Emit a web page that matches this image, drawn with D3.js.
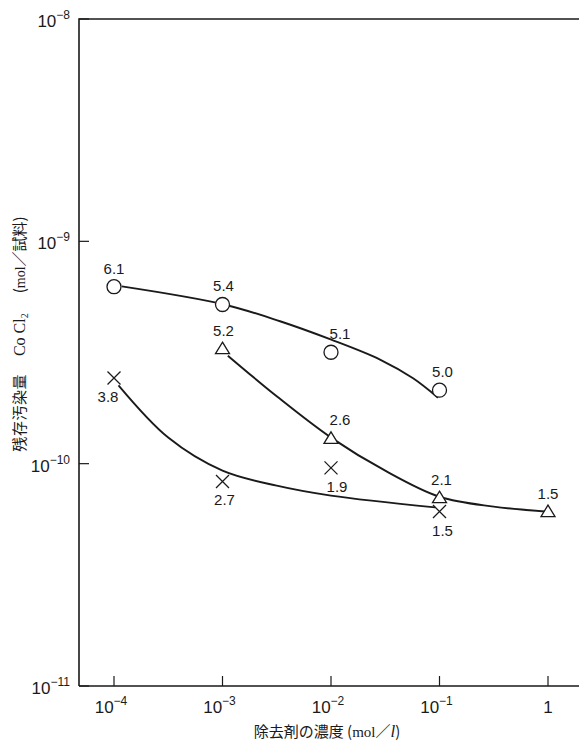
<!DOCTYPE html>
<html>
<head>
<meta charset="utf-8">
<script src="https://cdn.jsdelivr.net/npm/d3@7"></script>
<style>
  body { margin: 0; background: #fff; }
  svg { display: block; }
  text { fill: #1a1a1a; }
</style>
</head>
<body>
<script>
// Residual contamination (CoCl2, mol per sample) versus remover concentration (mol/l)

// Axis ticks
const xTicks = [1e-4, 1e-3, 1e-2, 1e-1, 1];
const xTickBase = ["10", "10", "10", "10", "1"];
const xTickExp = ["-4", "-3", "-2", "-1", ""];
const yTicks = [1e-8, 1e-9, 1e-10, 1e-11];
const yTickBase = ["10", "10", "10", "10"];
const yTickExp = ["-8", "-9", "-10", "-11"];

// Series: circles
const circleConc = [1e-4, 1e-3, 1e-2, 1e-1];
const circleVals = [6.25e-10, 5.2e-10, 3.17e-10, 2.14e-10];
const circleLabels = ["6.1", "5.4", "5.1", "5.0"];

// Series: triangles
const triConc = [1e-3, 1e-2, 1e-1, 1];
const triVals = [3.29e-10, 1.30e-10, 7.03e-11, 6.09e-11];
const triLabels = ["5.2", "2.6", "2.1", "1.5"];

// Series: crosses
const crossConc = [1e-4, 1e-3, 1e-2, 1e-1];
const crossVals = [2.43e-10, 8.32e-11, 9.57e-11, 6.09e-11];
const crossLabels = ["3.8", "2.7", "1.9", "1.5"];

// Hand-drawn trend curves (concentration, value)
const circleFitConc = [1.18e-4, 1.03e-3, 3.39e-3, 9.93e-3, 2.83e-2, 5.71e-2, 9.68e-2];
const circleFitVals = [6.27e-10, 5.2e-10, 4.37e-10, 3.62e-10, 2.94e-10, 2.42e-10, 1.98e-10];
const triFitConc = [1.12e-3, 3.16e-3, 1e-2, 3.16e-2, 1e-1, 3.16e-1, 1];
const triFitVals = [3.06e-10, 2.01e-10, 1.31e-10, 9.3e-11, 7.1e-11, 6.41e-11, 6.08e-11];
const crossFitConc = [1.1e-4, 3.16e-4, 1e-3, 3.16e-3, 1e-2, 9.1e-2];
const crossFitVals = [2.25e-10, 1.31e-10, 9.3e-11, 7.96e-11, 7.18e-11, 6.36e-11];

const W = 579, H = 741;
const svg = d3.select("body").append("svg")
  .attr("width", W).attr("height", H)
  .attr("viewBox", `0 0 ${W} ${H}`);

const x = d3.scaleLog().domain([1e-4, 1]).range([114, 548]);
const y = d3.scaleLog().domain([1e-11, 1e-8]).range([686, 19]);
const plotLeft = 79, plotRight = 579;

const ink = "#1a1a1a";
const numFont = "'Liberation Sans', Arial, sans-serif";
const cjkFont = "'Noto Sans CJK JP', sans-serif";
const serifFont = "'Liberation Serif', serif";

// Frame: left axis, bottom axis, top rule
svg.append("path")
  .attr("d", `M${plotLeft},${y(1e-11)}H${plotRight}M${plotLeft},${y(1e-11)}V${y(1e-8)}H${plotRight}`)
  .attr("fill", "none").attr("stroke", ink).attr("stroke-width", 1.6);

// X ticks (pointing up) and labels
const xg = svg.append("g");
xTicks.forEach((t, i) => {
  xg.append("line")
    .attr("x1", x(t)).attr("x2", x(t))
    .attr("y1", y(1e-11)).attr("y2", y(1e-11) - 10)
    .attr("stroke", ink).attr("stroke-width", 1.2);
  const tx = xg.append("text")
    .attr("x", x(t) + (xTickExp[i] ? -3 : 0)).attr("y", 713)
    .attr("text-anchor", "middle")
    .attr("font-family", numFont).attr("font-size", 17);
  tx.append("tspan").text(xTickBase[i]);
  if (xTickExp[i]) {
    tx.append("tspan").attr("dy", -8).attr("font-size", 12).text(xTickExp[i].replace("-", "\u2212"));
  }
});

// Y ticks (pointing right) and labels
const yg = svg.append("g");
yTicks.forEach((t, i) => {
  yg.append("line")
    .attr("x1", plotLeft).attr("x2", plotLeft + 10)
    .attr("y1", y(t)).attr("y2", y(t))
    .attr("stroke", ink).attr("stroke-width", 1.2);
  const ty = yg.append("text")
    .attr("x", 70).attr("y", y(t) + 8)
    .attr("text-anchor", "end")
    .attr("font-family", numFont).attr("font-size", 17);
  ty.append("tspan").text(yTickBase[i]);
  ty.append("tspan").attr("dy", -8).attr("font-size", 12).text(yTickExp[i].replace("-", "\u2212"));
});

// X axis title
const xt = svg.append("text")
  .attr("x", 327).attr("y", 737)
  .attr("text-anchor", "middle")
  .attr("font-family", cjkFont).attr("font-size", 15);
xt.append("tspan").text("除去剤の濃度 (");
xt.append("tspan").attr("font-family", serifFont).attr("font-size", 15).text("mol");
xt.append("tspan").text("／");
xt.append("tspan").attr("font-family", serifFont).attr("font-style", "italic").attr("font-size", 17).text("l");
xt.append("tspan").text(")");

// Y axis title (rotated)
const yt = svg.append("text")
  .attr("transform", "translate(25,334) rotate(-90)")
  .attr("text-anchor", "middle")
  .attr("font-family", cjkFont).attr("font-size", 15);
yt.append("tspan").attr("letter-spacing", 0.5).text("残存汚染量");
yt.append("tspan").attr("dx", 18).attr("font-family", serifFont).attr("font-size", 16).text("Co Cl");
yt.append("tspan").attr("font-family", serifFont).attr("font-size", 10).attr("dy", 3).text("2");
yt.append("tspan").attr("dy", -3).attr("dx", 20).text("(");
yt.append("tspan").attr("font-family", serifFont).attr("font-size", 14).text("mol");
yt.append("tspan").text("／試料)");

// Trend curves
const curveLine = d3.line()
  .x(d => x(d[0])).y(d => y(d[1]))
  .curve(d3.curveCatmullRom.alpha(0.5));
const curves = [
  d3.zip(circleFitConc, circleFitVals),
  d3.zip(triFitConc, triFitVals),
  d3.zip(crossFitConc, crossFitVals)
];
svg.append("g").selectAll("path").data(curves).join("path")
  .attr("d", curveLine)
  .attr("fill", "none").attr("stroke", ink).attr("stroke-width", 1.9);

// Markers
const markers = svg.append("g").attr("fill", "#fff").attr("stroke", ink).attr("stroke-width", 1.3);
markers.selectAll("circle").data(d3.zip(circleConc, circleVals)).join("circle")
  .attr("cx", d => x(d[0])).attr("cy", d => y(d[1])).attr("r", 7);
markers.selectAll("path.tri").data(d3.zip(triConc, triVals)).join("path")
  .attr("class", "tri")
  .attr("transform", d => `translate(${x(d[0])},${y(d[1])})`)
  .attr("d", "M0,-6.5L7,5L-7,5Z");
markers.selectAll("path.cross").data(d3.zip(crossConc, crossVals)).join("path")
  .attr("class", "cross")
  .attr("fill", "none")
  .attr("transform", d => `translate(${x(d[0])},${y(d[1])})`)
  .attr("d", "M-6.5,-6.5L6.5,6.5M-6.5,6.5L6.5,-6.5");

// Value labels
function labels(conc, vals, texts, dxs, dy) {
  svg.append("g").selectAll("text").data(d3.zip(conc, vals, texts, dxs)).join("text")
    .attr("x", d => x(d[0]) + d[3]).attr("y", d => y(d[1]) + dy)
    .attr("text-anchor", "middle")
    .attr("font-family", numFont).attr("font-size", 15)
    .text(d => d[2]);
}
labels(circleConc, circleVals, circleLabels, [0, 1, 9, 3], -13);
labels(triConc, triVals, triLabels, [1, 9, 2, 0], -13);
labels(crossConc, crossVals, crossLabels, [-6, 2, 6, 3], 24);
</script>
</body>
</html>
